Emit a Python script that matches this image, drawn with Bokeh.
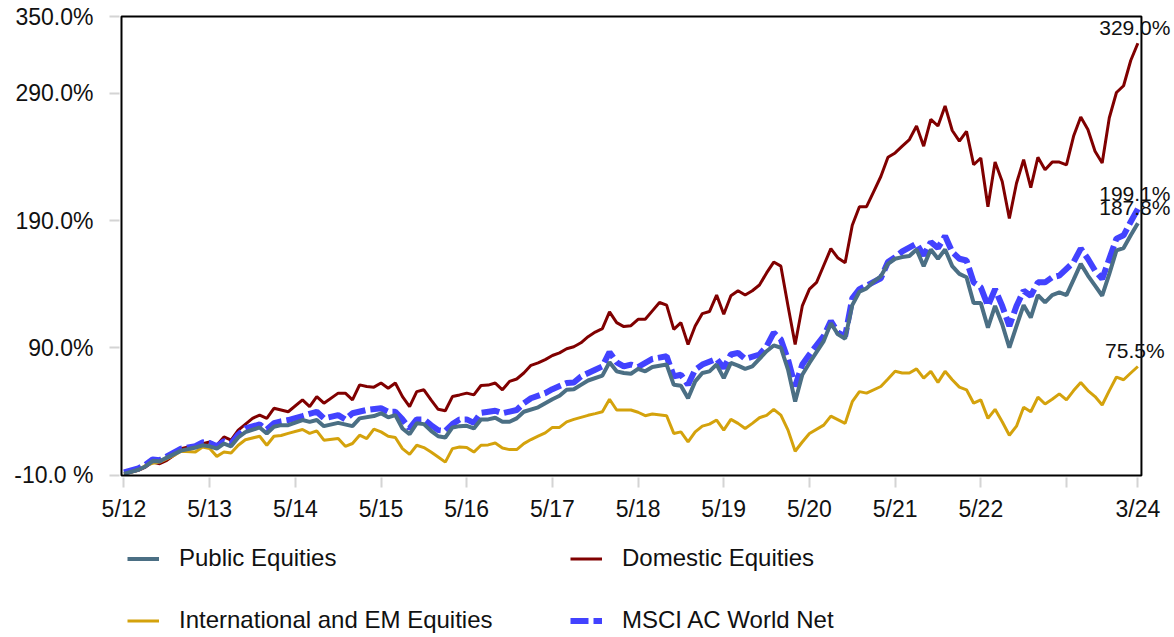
from bokeh.plotting import figure
from bokeh.layouts import column
from bokeh.models import (Range1d, FixedTicker, Legend, LegendItem, LabelSet,
                          ColumnDataSource, BoxAnnotation)
from bokeh.core.properties import value
from bokeh.embed import file_html
from bokeh.resources import INLINE

# month index: 0 = 5/12 ... 142 = 3/24
tick_months = [0, 12, 24, 36, 48, 60, 72, 84, 96, 108, 120, 132, 142]
tick_labels = ["5/12", "5/13", "5/14", "5/15", "5/16", "5/17", "5/18", "5/19",
               "5/20", "5/21", "5/22", "", "3/24"]
y_ticks = [-10, 90, 190, 290, 350]
y_tick_labels = ["-10.0 %", "90.0%", "190.0%", "290.0%", "350.0%"]

dom_month = [0, 2, 3, 4, 5, 6, 7, 8, 9, 11, 12, 13, 14, 15, 16, 18, 19, 20, 21, 22, 23,
             25, 26, 27, 28, 30, 31, 32, 33, 34, 35, 36, 37, 38, 39, 40, 41, 42, 43, 44,
             45, 46, 47, 48, 49, 50, 51, 52, 53, 54, 55, 56, 57, 58, 59, 60, 61, 62, 63,
             64, 65, 66, 67, 68, 69, 70, 71, 72, 73, 74, 75, 76, 77, 78, 79, 80, 81, 82,
             83, 84, 85, 86, 87, 88, 89, 90, 91, 92, 93, 94, 95, 96, 97, 98, 99, 100, 101,
             102, 103, 104, 105, 106, 107, 108, 109, 110, 111, 112, 113, 114, 115, 116,
             117, 118, 119, 120, 121, 122, 123, 124, 125, 126, 127, 128, 129, 130, 131,
             132, 133, 134, 135, 136, 137, 138, 139, 140, 141, 142]
dom_value = [-8.7, -6.0, -3.4, 0.5, -0.8, 1.9, 5.8, 11.1, 12.4, 15.0, 16.3, 13.7, 20.3, 17.7,
             25.6, 34.8, 37.4, 34.8, 42.7, 41.4, 40.0, 49.3, 44.0, 51.9, 46.7, 54.6, 54.6,
             49.3, 61.1, 59.8, 59.3, 62.5, 58.5, 62.5, 51.9, 44.0, 55.8, 57.2, 49.3, 41.9,
             40.8, 51.9, 53.2, 54.6, 53.2, 60.6, 60.9, 62.5, 57.2, 63.8, 65.7, 70.4, 76.4,
             78.3, 80.9, 84.1, 86.2, 89.4, 91.0, 94.1, 98.9, 102.5, 105.2, 118.3, 109.9,
             106.8, 107.5, 112.5, 112.5, 119.1, 125.7, 123.6, 104.6, 109.9, 92.8, 107.2,
             117.0, 118.6, 131.5, 116.5, 131.0, 134.9, 131.5, 134.9, 139.4, 148.9, 157.4,
             154.2, 123.0, 92.8, 123.0, 136.2, 141.5, 154.7, 167.9, 160.5, 156.8, 186.3,
             200.8, 200.8, 212.7, 224.5, 239.6, 243.0, 248.3, 253.5, 264.1, 248.3, 269.3,
             264.1, 279.9, 260.6, 252.2, 260.0, 233.7, 239.0, 200.8, 235.8, 220.6, 191.6,
             219.2, 237.7, 215.8, 239.6, 229.8, 235.8, 235.8, 233.7, 256.2, 271.2, 261.4,
             244.3, 235.1, 270.6, 290.4, 295.7, 315.5, 329.0]

intl_month = [0, 2, 3, 4, 5, 7, 8, 10, 11, 12, 13, 14, 15, 16, 17, 19, 20, 21, 22, 23, 25,
              26, 27, 28, 30, 31, 32, 33, 34, 35, 36, 37, 38, 39, 40, 41, 42, 43, 44, 45,
              46, 47, 48, 49, 50, 51, 52, 53, 54, 55, 56, 57, 58, 59, 60, 61, 62, 63, 64,
              65, 66, 67, 68, 69, 70, 71, 72, 73, 74, 76, 77, 78, 79, 80, 81, 82, 83, 84,
              85, 86, 87, 88, 89, 90, 91, 92, 93, 94, 95, 96, 98, 99, 101, 102, 103, 104,
              106, 107, 108, 109, 110, 111, 112, 113, 114, 115, 116, 117, 118, 119, 120,
              121, 122, 123, 124, 125, 126, 127, 128, 129, 130, 131, 132, 133, 134, 135,
              136, 137, 138, 139, 140, 141, 142]
intl_value = [-9.0, -6.0, -2.1, -0.5, 0.5, 5.8, 9.0, 8.4, 12.4, 11.1, 5.0, 8.4, 7.6, 13.7,
              18.0, 20.8, 13.7, 20.8, 21.4, 23.0, 26.1, 23.0, 25.0, 17.7, 19.0, 12.9, 15.1,
              21.6, 19.0, 26.4, 24.2, 20.8, 19.8, 11.1, 6.6, 13.7, 11.9, 8.4, 4.5, 0.5, 11.1,
              12.4, 11.9, 8.4, 13.7, 14.0, 15.5, 11.6, 10.3, 10.3, 15.0, 18.2, 20.8, 23.4,
              27.7, 27.7, 32.1, 34.0, 35.6, 37.2, 38.5, 40.0, 49.8, 41.4, 41.4, 41.4, 39.6,
              36.9, 38.2, 36.9, 23.0, 24.2, 16.3, 24.2, 28.7, 30.3, 33.5, 25.6, 34.0, 30.9,
              26.9, 30.9, 35.3, 37.2, 41.9, 37.4, 25.6, 9.0, 16.3, 23.0, 29.5, 36.6, 30.9,
              47.9, 55.8, 54.6, 59.8, 65.7, 71.7, 70.4, 70.4, 73.6, 66.4, 71.7, 63.0, 71.7,
              65.1, 59.3, 57.2, 46.7, 49.3, 34.8, 41.9, 32.1, 21.6, 28.7, 43.5, 40.0, 51.4,
              46.1, 49.8, 54.0, 49.3, 56.6, 63.0, 56.6, 51.9, 45.3, 56.6, 67.2, 65.1, 70.4,
              75.5]

pub_month = [0, 2, 3, 4, 5, 6, 8, 10, 11, 12, 13, 14, 15, 16, 17, 19, 20, 21, 22, 23, 25,
             26, 27, 28, 30, 32, 33, 35, 36, 37, 38, 39, 40, 41, 42, 43, 44, 45, 46, 47, 48,
             49, 50, 51, 52, 53, 54, 55, 56, 58, 59, 60, 61, 62, 63, 64, 65, 67, 68, 69, 70,
             71, 72, 73, 74, 76, 77, 78, 79, 80, 81, 82, 83, 84, 85, 86, 87, 88, 89, 90, 91,
             92, 93, 94, 95, 96, 98, 99, 100, 101, 102, 103, 104, 105, 106, 107, 108, 109,
             110, 111, 112, 113, 114, 115, 116, 117, 118, 119, 120, 121, 122, 123, 124, 125,
             126, 127, 128, 129, 130, 131, 132, 133, 134, 135, 136, 137, 138, 139, 140, 141,
             142]
pub_value = [-8.7, -5.5, -2.9, 1.3, 1.1, 4.0, 9.5, 11.9, 13.7, 12.9, 11.1, 15.0, 12.9, 19.8,
             24.0, 27.7, 23.0, 28.2, 29.5, 29.5, 33.5, 32.1, 33.5, 28.7, 31.3, 28.7, 34.8,
             36.6, 38.8, 35.6, 37.4, 26.9, 22.4, 30.9, 30.3, 25.0, 20.8, 19.8, 27.7, 28.7,
             29.0, 26.9, 34.0, 34.0, 35.3, 32.1, 32.1, 34.8, 40.0, 43.5, 46.7, 49.8, 52.5,
             57.2, 57.7, 61.1, 64.5, 68.3, 78.8, 71.7, 70.4, 69.8, 73.6, 71.7, 75.1, 77.0,
             61.1, 60.4, 50.6, 63.8, 70.4, 71.7, 77.0, 66.4, 78.3, 76.2, 73.6, 75.6, 81.5,
             87.5, 92.0, 90.2, 73.0, 48.0, 69.0, 78.3, 95.4, 109.4, 100.7, 97.3, 123.6, 134.1,
             136.8, 142.0, 146.3, 156.0, 160.0, 161.3, 162.1, 167.3, 154.2, 167.3, 160.0,
             167.3, 154.2, 148.1, 145.5, 125.2, 125.2, 106.0, 123.0, 108.6, 90.2, 107.2,
             123.6, 113.9, 131.5, 125.7, 131.5, 133.6, 131.5, 143.6, 156.0, 146.8, 138.9,
             131.0, 148.1, 166.5, 168.4, 178.4, 187.8]

msci_month = [0, 2, 3, 4, 5, 6, 8, 10, 11, 12, 13, 14, 15, 16, 17, 19, 20, 21, 22, 23, 25,
              27, 28, 30, 31, 32, 34, 36, 37, 38, 39, 40, 41, 42, 43, 44, 45, 46, 47, 48, 49,
              50, 52, 53, 55, 56, 57, 59, 60, 62, 63, 64, 66, 67, 68, 69, 70, 71, 72, 74, 76,
              77, 78, 79, 80, 81, 83, 84, 85, 86, 87, 89, 90, 91, 92, 93, 94, 95, 96, 98, 99,
              100, 101, 102, 103, 104, 106, 107, 108, 109, 111, 112, 113, 114, 115, 116, 117,
              118, 119, 120, 121, 122, 123, 124, 125, 126, 127, 128, 129, 130, 131, 133, 134,
              135, 136, 137, 138, 139, 140, 141, 142]
msci_value = [-7.5, -4.5, -1.5, 2.5, 2.0, 5.0, 11.0, 13.0, 16.0, 15.5, 13.0, 17.0, 15.0, 22.0,
              27.0, 30.0, 26.0, 31.0, 32.5, 33.5, 36.6, 40.0, 34.8, 37.4, 34.0, 38.8, 41.4,
              42.7, 40.0, 40.0, 34.0, 26.9, 34.0, 34.0, 29.5, 25.6, 25.0, 30.3, 34.0, 34.0,
              31.3, 39.2, 40.8, 38.8, 41.4, 46.7, 50.6, 54.6, 57.7, 62.5, 63.0, 67.7, 73.0,
              75.6, 86.7, 78.8, 75.6, 77.0, 75.1, 81.5, 83.5, 67.7, 69.0, 61.1, 73.0, 77.0,
              81.5, 74.3, 84.9, 86.2, 81.5, 84.9, 91.4, 102.0, 96.7, 80.9, 60.0, 77.0, 84.9,
              99.3, 111.2, 102.0, 99.3, 128.9, 136.2, 138.9, 144.7, 157.4, 161.3, 165.7,
              171.8, 162.6, 173.1, 168.4, 177.9, 165.3, 160.0, 158.6, 141.5, 137.6, 123.0,
              136.2, 123.0, 107.2, 123.0, 134.9, 131.0, 141.5, 141.5, 145.5, 146.8, 157.4,
              168.0, 160.0, 150.7, 144.2, 160.0, 175.8, 178.4, 189.0, 199.1]

series_names = ["Public Equities", "Domestic Equities",
                "International and EM Equities", "MSCI AC World Net"]

FONT = "Liberation Sans"
STYLE = {
    "Public Equities": dict(line_color="#4B6F84", line_width=4),
    "Domestic Equities": dict(line_color="#800000", line_width=3),
    "International and EM Equities": dict(line_color="#D4A20C", line_width=3),
    "MSCI AC World Net": dict(line_color="#4242FF", line_width=6, line_dash="18 5"),
}

# layout: plotting frame is a bit larger than the drawn box so that the end
# labels can sit to the right of the box without being clipped
box_left, box_right = -0.35, 142.5
x_start, x_end = -0.63, 147.13
y_start, y_end = -11.57, 351.57

p = figure(width=1174, height=524, output_backend="svg", toolbar_location=None,
           x_range=Range1d(x_start, x_end), y_range=Range1d(y_start, y_end),
           min_border_left=119, min_border_right=0, min_border_top=14,
           min_border_bottom=47)
p.background_fill_color = "white"
p.border_fill_color = "white"
p.outline_line_color = None
p.xgrid.visible = False
p.ygrid.visible = False

p.yaxis.ticker = FixedTicker(ticks=y_ticks)
p.yaxis.major_label_overrides = {t: s for t, s in zip(y_ticks, y_tick_labels)}
p.xaxis.ticker = FixedTicker(ticks=tick_months)
p.xaxis.major_label_overrides = {t: s for t, s in zip(tick_months, tick_labels)}

for ax in (p.xaxis[0], p.yaxis[0]):
    ax.axis_line_color = None
    ax.major_tick_line_color = "#d4d4d4"
    ax.major_tick_line_width = 2
    ax.major_tick_out = 10
    ax.major_tick_in = 0
    ax.minor_tick_line_color = None
    ax.major_label_text_font = FONT
    ax.major_label_text_color = "#111111"
p.yaxis.major_label_text_font_size = "23px"
p.yaxis.major_label_standoff = 16
p.xaxis.major_label_text_font_size = "23px"
p.xaxis.major_label_standoff = 8

p.line(dom_month, dom_value, **STYLE["Domestic Equities"])
p.line(intl_month, intl_value, **STYLE["International and EM Equities"])
p.line(msci_month, msci_value, **STYLE["MSCI AC World Net"])
p.line(pub_month, pub_value, **STYLE["Public Equities"])

p.add_layout(BoxAnnotation(left=box_left, right=box_right, bottom=y_ticks[0],
                           top=y_ticks[-1], fill_alpha=0, line_color="black",
                           line_alpha=1.0, line_width=2))

end_src = ColumnDataSource(dict(
    x=[dom_month[-1], msci_month[-1], pub_month[-1], intl_month[-1]],
    y=[dom_value[-1], msci_value[-1], pub_value[-1], intl_value[-1]],
    text=[f"{v:.1f}%" for v in (dom_value[-1], msci_value[-1], pub_value[-1], intl_value[-1])],
))
labels = LabelSet(x="x", y="y", text="text", source=end_src, text_align="center",
                  text_baseline="alphabetic", x_offset=-3, y_offset=8,
                  text_font=value(FONT), text_font_size="21px", text_color="#111111")
p.add_layout(labels)

# legend panel below the chart (its frame is aligned with the chart's frame)
lg = figure(width=1174, height=113, output_backend="svg", toolbar_location=None,
            x_axis_location=None, y_axis_location=None,
            min_border_left=119, min_border_right=0, min_border_top=0,
            min_border_bottom=0, x_range=Range1d(0, 1), y_range=Range1d(0, 1))
lg.outline_line_color = None
lg.xgrid.visible = False
lg.ygrid.visible = False
lg.background_fill_color = "white"
lg.border_fill_color = "white"
nan = float("nan")
items = []
for name in series_names:
    r = lg.line([nan, nan], [nan, nan], **STYLE[name])
    items.append(LegendItem(label=name, renderers=[r]))
legend = Legend(items=items, location=(8, 3), orientation="horizontal", ncols=2,
                glyph_width=32, glyph_height=27, label_height=27, label_width=357,
                label_standoff=20, spacing=34, padding=0, margin=0,
                border_line_color=None, background_fill_alpha=0,
                label_text_font=FONT, label_text_font_size="24px",
                label_text_color="#111111")
lg.add_layout(legend)

open("out.html", "w").write(file_html(column(p, lg, spacing=0), INLINE))
